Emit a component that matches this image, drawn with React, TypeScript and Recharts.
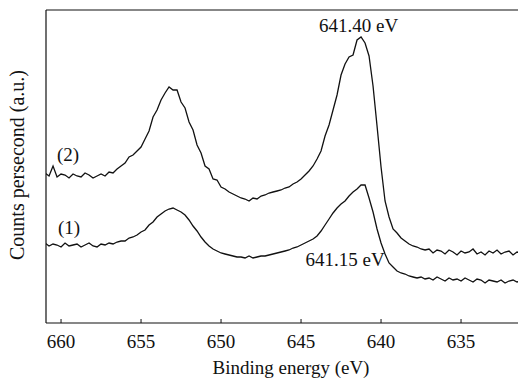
import { Line, LineChart, ReferenceDot, ReferenceLine, XAxis, YAxis } from 'recharts';

// binding energy grid (eV), 0.25 eV apart, high -> low
const ENERGY = [
  661.0, 660.75, 660.5, 660.25, 660.0, 659.75, 659.5, 659.25,
  659.0, 658.75, 658.5, 658.25, 658.0, 657.75, 657.5, 657.25,
  657.0, 656.75, 656.5, 656.25, 656.0, 655.75, 655.5, 655.25,
  655.0, 654.75, 654.5, 654.25, 654.0, 653.75, 653.5, 653.25,
  653.0, 652.75, 652.5, 652.25, 652.0, 651.75, 651.5, 651.25,
  651.0, 650.75, 650.5, 650.25, 650.0, 649.75, 649.5, 649.25,
  649.0, 648.75, 648.5, 648.25, 648.0, 647.75, 647.5, 647.25,
  647.0, 646.75, 646.5, 646.25, 646.0, 645.75, 645.5, 645.25,
  645.0, 644.75, 644.5, 644.25, 644.0, 643.75, 643.5, 643.25,
  643.0, 642.75, 642.5, 642.25, 642.0, 641.75, 641.5, 641.25,
  641.0, 640.75, 640.5, 640.25, 640.0, 639.75, 639.5, 639.25,
  639.0, 638.75, 638.5, 638.25, 638.0, 637.75, 637.5, 637.25,
  637.0, 636.75, 636.5, 636.25, 636.0, 635.75, 635.5, 635.25,
  635.0, 634.75, 634.5, 634.25, 634.0, 633.75, 633.5, 633.25,
  633.0, 632.75, 632.5, 632.25, 632.0, 631.75, 631.5, 631.25,
];

// spectrum (1), counts in arbitrary units
const SPECTRUM_1 = [
  80, 77, 79, 78, 76, 80, 77, 78,
  79, 76, 78, 80, 77, 76, 79, 78,
  80, 79, 81, 82, 82, 85, 86, 88,
  91, 93, 98, 101, 106, 109, 112, 114,
  115, 113, 111, 108, 103, 97, 92, 86,
  81, 77, 74, 72, 70, 69, 68, 67,
  66, 66, 65, 67, 65, 66, 67, 67,
  68, 69, 70, 71, 72, 73, 75, 76,
  78, 80, 82, 84, 87, 92, 98, 104,
  110, 115, 119, 122, 127, 131, 134, 138,
  138, 125, 111, 94, 80, 69, 60, 56,
  52, 50, 49, 47, 46, 45, 46, 44,
  45, 43, 46, 44, 42, 45, 43, 44,
  42, 45, 43, 41, 44, 43, 40, 43,
  42, 41, 43, 40, 42, 43, 41, 42,
];

// spectrum (2)
const SPECTRUM_2 = [
  150, 147, 157, 146, 149, 148, 145, 149,
  147, 146, 150, 148, 145, 147, 149, 147,
  151, 150, 154, 157, 160, 166, 168, 172,
  176, 184, 192, 206, 213, 223, 230, 236,
  233, 233, 221, 215, 201, 193, 178, 170,
  157, 154, 144, 143, 136, 134, 131, 129,
  127, 125, 124, 122, 125, 124, 127, 128,
  130, 131, 132, 133, 135, 136, 139, 141,
  144, 148, 152, 157, 164, 172, 187, 198,
  213, 228, 248, 259, 266, 268, 283, 286,
  280, 267, 237, 197, 156, 122, 106, 94,
  90, 85, 82, 79, 77, 76, 74, 73,
  74, 70, 73, 72, 69, 73, 71, 68,
  72, 70, 71, 74, 69, 71, 68, 72,
  70, 73, 69, 71, 72, 68, 71, 70,
];

const X_TICKS = [660, 655, 650, 645, 640, 635];

const data = ENERGY.map((e, i) => ({ e, s1: SPECTRUM_1[i], s2: SPECTRUM_2[i] }));

const FONT = 'Liberation Serif, Times New Roman, DejaVu Serif, serif';
const txt = { fontFamily: FONT, fontSize: 19 };

function XTick({ x, y, payload }: any) {
  return (
    <g>
      <line x1={x} y1={y} x2={x} y2={y - 4} stroke="#111" strokeWidth={1} />
      <text x={x} y={y + 25} textAnchor="middle" style={txt} fill="#111">
        {payload.value}
      </text>
    </g>
  );
}

function Annot({ text }: { text: string }) {
  return (props: any) => (
    <text x={props.viewBox.x} y={props.viewBox.y} textAnchor="middle" style={txt} fill="#111">
      {text}
    </text>
  );
}

export default function App() {
  return (
    <div style={{ position: 'absolute', left: 0, top: 0, width: 518, height: 385, background: '#fff' }}>
      <LineChart width={518} height={385} data={data} margin={{ top: 10, right: 0, left: 0, bottom: 0 }}>
        <XAxis
          dataKey="e"
          type="number"
          domain={[631.44, 660.94]}
          reversed
          allowDataOverflow
          ticks={X_TICKS}
          height={62}
          tickSize={0}
          tickMargin={0}
          tickLine={false}
          axisLine={{ stroke: '#111', strokeWidth: 1.2 }}
          tick={<XTick />}
          label={{
            content: () => (
              <text x={291} y={374} textAnchor="middle" style={txt} fill="#111">
                Binding energy (eV)
              </text>
            ),
          }}
        />
        <YAxis
          type="number"
          domain={[0, 313]}
          allowDataOverflow
          width={46}
          tick={false}
          tickLine={false}
          axisLine={{ stroke: '#111', strokeWidth: 1.2 }}
          label={{
            content: () => (
              <text
                x={24}
                y={165}
                transform="rotate(-90 24 165)"
                textAnchor="middle"
                style={{ ...txt, fontSize: 20 }}
                fill="#111"
              >
                Counts persecond (a.u.)
              </text>
            ),
          }}
        />
        <ReferenceLine y={313} stroke="#111" strokeWidth={1.2} ifOverflow="extendDomain" />
        <Line dataKey="s2" type="linear" stroke="#111" strokeWidth={1.3} dot={false} isAnimationActive={false} />
        <Line dataKey="s1" type="linear" stroke="#111" strokeWidth={1.3} dot={false} isAnimationActive={false} />
        <ReferenceDot x={641.4} y={291} r={0} label={{ content: Annot({ text: '641.40 eV' }) }} />
        <ReferenceDot x={642.25} y={57} r={0} label={{ content: Annot({ text: '641.15 eV' }) }} />
        <ReferenceDot x={659.56} y={162} r={0} label={{ content: Annot({ text: '(2)' }) }} />
        <ReferenceDot x={659.5} y={89} r={0} label={{ content: Annot({ text: '(1)' }) }} />
      </LineChart>
    </div>
  );
}
